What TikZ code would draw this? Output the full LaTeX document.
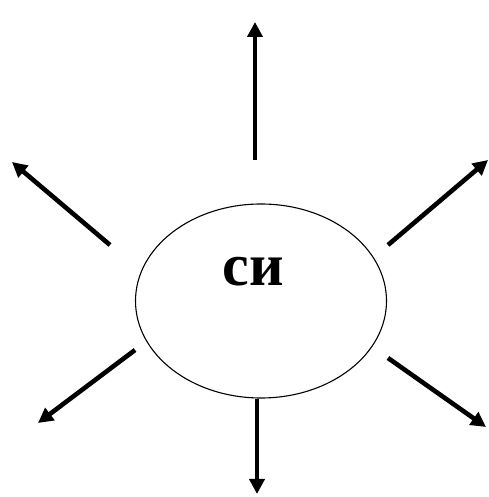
\documentclass[tikz,border=0pt]{standalone}
\usepackage{fontspec}
\newfontfamily\cyrserif{Liberation Serif}
\usetikzlibrary{shapes.geometric,arrows.meta}
\begin{document}
\begin{tikzpicture}[x=1pt,y=1pt,
  ray/.style={line width=4.6pt,-{Triangle[length=15pt,width=15pt]}},
  centre/.style={ellipse,draw,line width=1.1pt,minimum width=251pt,minimum height=194pt,inner sep=0pt}]
\useasboundingbox (0,0) rectangle (488,497);
\node[centre] (e) at (261,196) {};
\node[font=\cyrserif\bfseries\fontsize{60}{62}\selectfont] (t) at (253,225) {си};
% arrow coordinates
\coordinate (s1) at (255,337); \coordinate (t1) at (255,475);
\coordinate (s2) at (110,252); \coordinate (t2) at (12,335);
\coordinate (s3) at (388,252); \coordinate (t3) at (488,337);
\coordinate (s4) at (388,139); \coordinate (t4) at (486,70);
\coordinate (s5) at (135,147); \coordinate (t5) at (38,74);
\coordinate (t6) at (257,3);
\coordinate (s6) at (e.south -| t6);
\draw[ray] (s1) -- (t1);
\draw[ray] (s2) -- (t2);
\draw[ray] (s3) -- (t3);
\draw[ray] (s4) -- (t4);
\draw[ray] (s5) -- (t5);
\draw[ray] (s6) -- (t6);
\end{tikzpicture}
\end{document}
